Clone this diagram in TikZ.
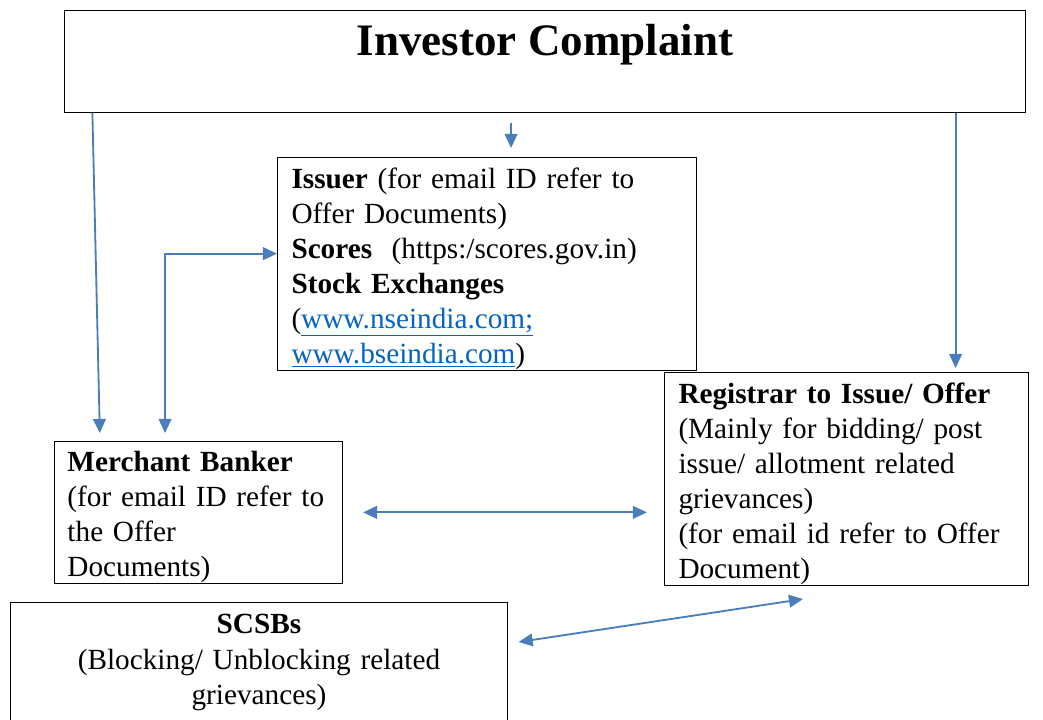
\documentclass[tikz,border=0pt]{standalone}
\usepackage{fontspec}
\setmainfont{Liberation Serif}
\usetikzlibrary{arrows.meta}
\definecolor{arrowblue}{HTML}{4A7EBB}
\definecolor{linkblue}{HTML}{0563C1}
\newcommand{\firstline}{\rule{0pt}{0.75cm}}

\begin{document}
\begin{tikzpicture}[x=0.025cm, y=-0.025cm,
    box/.style={draw, line width=0.7pt, inner sep=0pt, font=\fontsize{20.8}{25}\selectfont},
    arr/.style={draw=arrowblue, line width=1.3pt, -{Triangle[length=10pt,width=9pt]}},
    darr/.style={arr, {Triangle[length=10pt,width=9pt]}-{Triangle[length=10pt,width=9pt]}}]
      \useasboundingbox (0,0) rectangle (1043,719);
      % Boxes:
      \node[box, anchor=north, minimum width=24cm, text height=1.125cm, text depth=1.425cm,
        font=\fontsize{32}{38}\selectfont\bfseries] (complaint) at (545,10) {Investor Complaint};
      \node[box, anchor=north west, align=left, text width=9.775cm, inner xsep=0.35cm, minimum height=5.325cm] (issuer) at (277,157)
        {\firstline\textbf{Issuer} (for email ID refer to\\ Offer Documents)\\ \textbf{Scores}~ (https:/scores.gov.in)\\ \textbf{Stock Exchanges}\\
         ({\color{linkblue}\underline{www.nseindia.com;}}\\ {\color{linkblue}\underline{www.bseindia.com}})};
      \node[box, anchor=north west, align=left, text width=8.4cm, inner xsep=0.35cm, minimum height=5.325cm] (registrar) at (664,372)
        {\firstline\textbf{Registrar to Issue/ Offer}\\ (Mainly for bidding/ post\\ issue/ allotment related\\ grievances)\\ (for email id refer to Offer\\ Document)};
      \node[box, anchor=north west, align=left, text width=6.55cm, inner xsep=0.325cm, minimum height=3.525cm] (merchant) at (54,441)
        {\firstline\textbf{Merchant Banker}\\ (for email ID refer to\\ the Offer\\ Documents)};
      \node[box, anchor=north, align=center, text width=11.8cm, inner xsep=0.3cm, inner ysep=0.3cm] (scsb) at (259,602)
        {\textbf{SCSBs}\\ (Blocking/ Unblocking related\\ grievances)\\[1cm]\mbox{}};
      % Arrows:
      \coordinate (ltop) at ([xshift=0.7cm]complaint.south west);
      \coordinate (mtop) at ([xshift=0.6cm]issuer.north);
      \coordinate (rtop) at ([xshift=-1.75cm]complaint.south east);
      \coordinate (elbow) at ([xshift=2.775cm]merchant.north west);
      \coordinate (scsbend) at ([xshift=0.275cm, yshift=-1cm]scsb.north east);
      \coordinate (regend) at ([xshift=3.475cm, yshift=-0.325cm]registrar.south west);
      \draw[arr, shorten >=0.2cm] (ltop) -- ([xshift=1.15cm]merchant.north west);
      \draw[arr, shorten <=0.25cm, shorten >=0.225cm] (mtop |- complaint.south) -- (mtop);
      \draw[arr, shorten >=0.1cm] (rtop) -- (rtop |- registrar.north);
      \draw[darr, shorten <=0.2cm] (elbow) |- ([yshift=0.26cm]issuer.west);
      \draw[darr, shorten <=0.5cm, shorten >=0.425cm] (merchant.east) -- (registrar.west |- merchant.east);
      \draw[darr] (scsbend) -- (regend);
\end{tikzpicture}
\end{document}
